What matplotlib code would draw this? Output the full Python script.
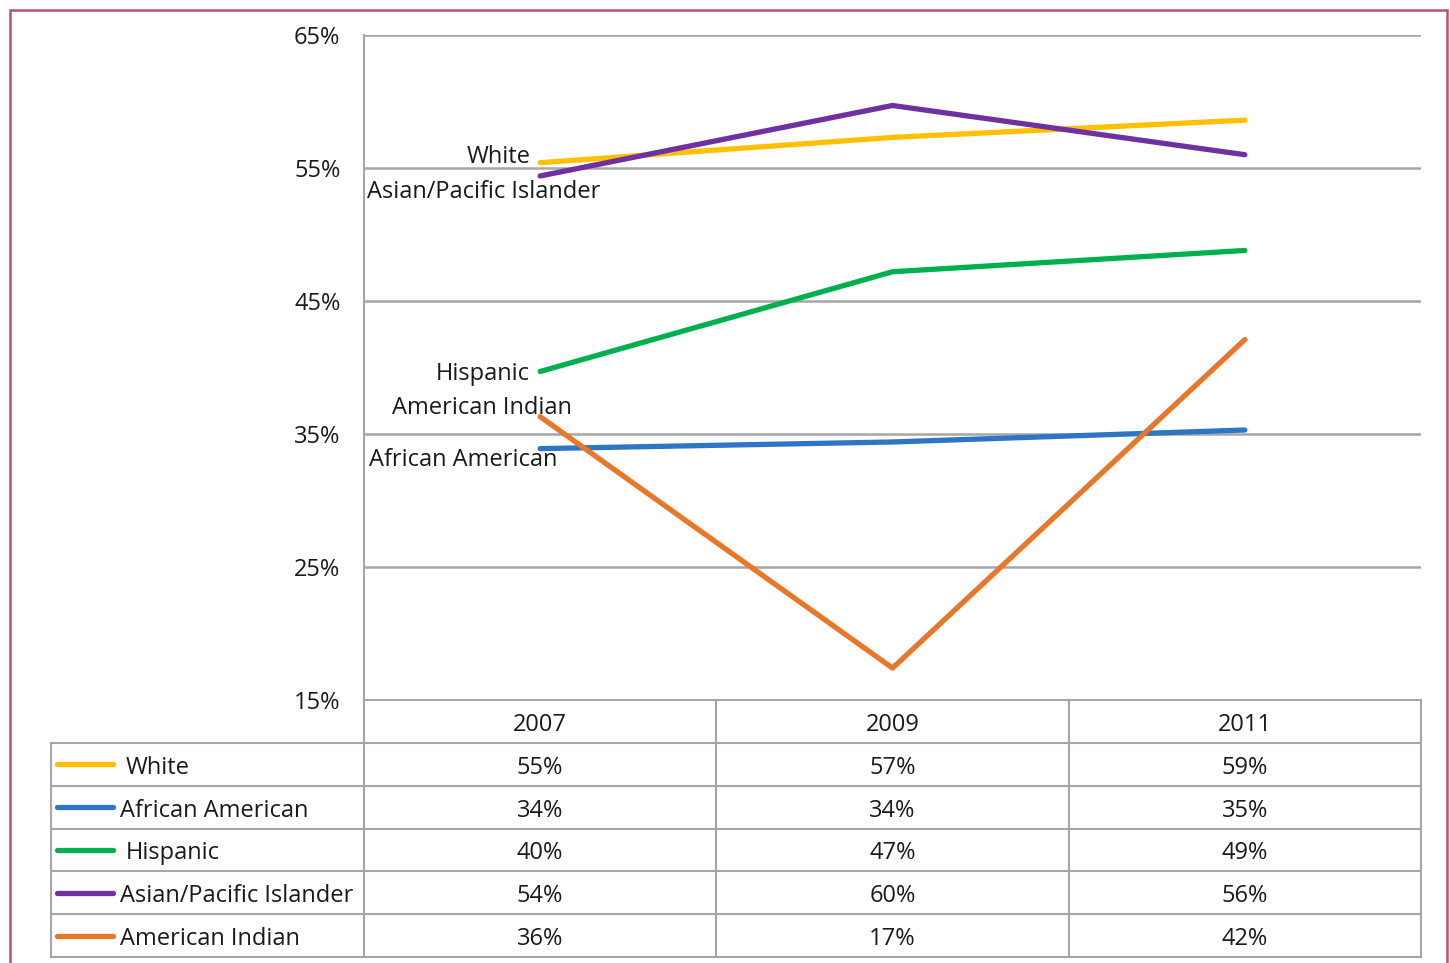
import matplotlib
matplotlib.use("Agg")
import matplotlib.pyplot as plt
from matplotlib.patches import Rectangle

plt.rcParams["font.family"] = ["Open Sans", "DejaVu Sans"]

# データ（%）
years = ["2007", "2009", "2011"]
groups = ["White", "African American", "Hispanic", "Asian/Pacific Islander", "American Indian"]
white = [55.4, 57.3, 58.6]
african_american = [33.9, 34.4, 35.3]
hispanic = [39.7, 47.2, 48.8]
asian_pi = [54.4, 59.7, 56.0]
american_indian = [36.3, 17.4, 42.1]
yticks = [15, 25, 35, 45, 55, 65]

series = [white, african_american, hispanic, asian_pi, american_indian]
colors = ["#FFC000", "#2E75C6", "#00B050", "#7030A0", "#E8772A"]
# 2007 の始点近くに置くラベルのずらし量（px）と揃え
label_pos = {
    "White": ((-10, 6), "right"),
    "African American": ((-77, -11), "center"),
    "Hispanic": ((-10, -3), "right"),
    "Asian/Pacific Islander": ((-56, -16), "center"),
    "American Indian": ((-58, 9), "center"),
}
# 表の凡例テキストの字下げ（px）
indent = {"White": 6, "Hispanic": 6}

W, H = 1450, 963
GRID = "#A6A6A6"
TXT = "#1a1a1a"
FS = 17

fig = plt.figure(figsize=(W / 100, H / 100), dpi=100)
fig.patch.set_facecolor("white")

# 外枠（赤）
fig.patches.append(Rectangle((10 / W, -0.01), 1437 / W, 1 - 10 / H + 0.01,
                             transform=fig.transFigure, fill=False,
                             edgecolor="#C0506A", linewidth=1.8))

x0, x1 = 364 / W, 1421 / W
ytop, ybot = 1 - 35 / H, 1 - 700 / H
ax = fig.add_axes([x0, ybot, x1 - x0, ytop - ybot])
xs = list(range(len(years)))
ax.set_xlim(-0.5, len(years) - 0.5)
ax.set_ylim(yticks[0], yticks[-1])
ax.set_yticks(yticks)
ax.set_yticklabels([f"{t}%" for t in yticks], fontsize=FS, color=TXT)
ax.tick_params(axis="y", length=0, pad=17)
ax.set_xticks([])
for s in ["top", "right", "bottom"]:
    ax.spines[s].set_visible(False)
ax.spines["left"].set_color(GRID)
ax.spines["left"].set_linewidth(1.5)
for t in yticks[1:]:
    ax.axhline(t, color=GRID, lw=1.8, zorder=1)

for name, vals, c in zip(groups, series, colors):
    ax.plot(xs, vals, color=c, lw=3.8, solid_capstyle="round", zorder=3)
    off, ha = label_pos[name]
    ax.annotate(name, (xs[0], vals[0]), xytext=off, textcoords="offset pixels",
                ha=ha, va="center", fontsize=FS, color=TXT, zorder=4)

# データテーブル
tl = 51 / W
tb = 1 - 957 / H
tax = fig.add_axes([tl, tb, x1 - tl, ybot - tb])
unit = (1421 - 364) / len(years)
left_unit = -0.5 - (364 - 51) / unit
nrows = len(groups) + 1
tax.set_xlim(left_unit, len(years) - 0.5)
tax.set_ylim(nrows, 0)
tax.axis("off")

lw = 1.5
# 横線
tax.plot([-0.5, len(years) - 0.5], [0, 0], color=GRID, lw=lw, clip_on=False)
for r in range(1, nrows + 1):
    tax.plot([left_unit, len(years) - 0.5], [r, r], color=GRID, lw=lw, clip_on=False)
# 縦線
tax.plot([left_unit, left_unit], [1, nrows], color=GRID, lw=lw, clip_on=False)
for i in range(len(years) + 1):
    tax.plot([i - 0.5, i - 0.5], [0, nrows], color=GRID, lw=lw, clip_on=False)

ty = 0.58
for i, y in enumerate(years):
    tax.text(i, ty, y, ha="center", va="center", fontsize=FS, color=TXT)

for r, (name, vals, c) in enumerate(zip(groups, series, colors), start=1):
    tax.plot([left_unit + 6 / unit, left_unit + 62 / unit], [r + 0.5, r + 0.5],
             color=c, lw=3.8, solid_capstyle="round", clip_on=False)
    tax.text(left_unit + (69 + indent.get(name, 0)) / unit, r + ty, name,
             ha="left", va="center", fontsize=FS, color=TXT)
    for i, v in enumerate(vals):
        tax.text(i, r + ty, f"{v:.0f}%", ha="center", va="center",
                 fontsize=FS, color=TXT)

fig.savefig("out.png", dpi=100)
